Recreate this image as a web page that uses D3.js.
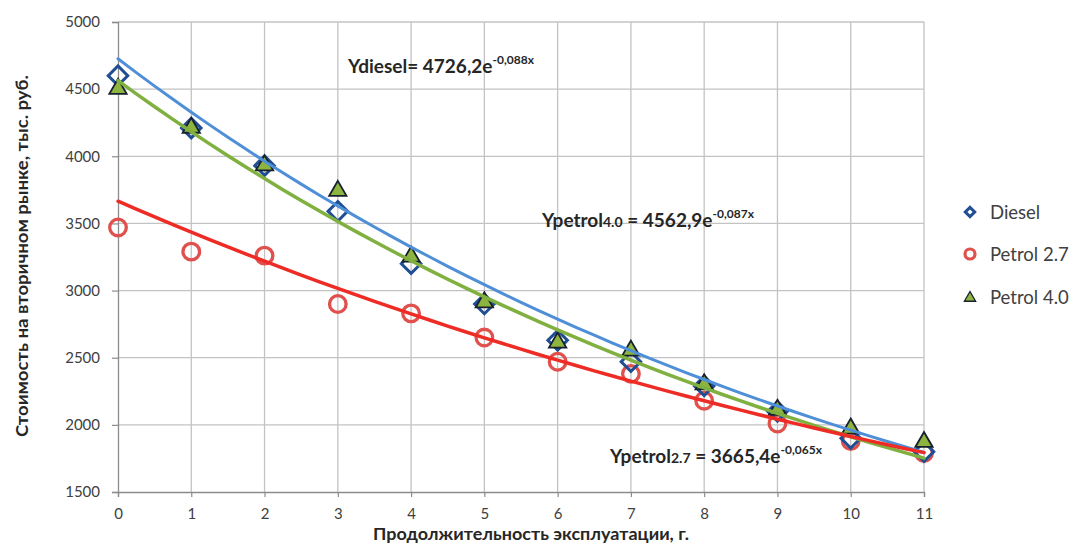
<!DOCTYPE html>
<html>
<head>
<meta charset="utf-8">
<script src="https://cdn.jsdelivr.net/npm/d3@7"></script>
<style>
  html, body { margin: 0; padding: 0; background: #ffffff; }
  svg { display: block; font-family: Lato, "Open Sans", sans-serif; }
</style>
</head>
<body>
<svg id="chart" width="1076" height="550"></svg>
<script>
// Service years (x) and residual market value, thousand rubles
const years = [0, 1, 2, 3, 4, 5, 6, 7, 8, 9, 10, 11];
const diesel   = [4600, 4210, 3930, 3590, 3200, 2900, 2630, 2470, 2290, 2100, 1900, 1800];
const petrol27 = [3470, 3290, 3260, 2900, 2830, 2650, 2470, 2380, 2180, 2010, 1880, 1790];
const petrol40 = [4510, 4220, 3940, 3750, 3260, 2920, 2620, 2560, 2310, 2120, 1980, 1880];

const seriesNames = ["Diesel", "Petrol 2.7", "Petrol 4.0"];
const yTicks = [1500, 2000, 2500, 3000, 3500, 4000, 4500, 5000];

// Exponential trends y = a * e^(b x)
const trendKeys = ["diesel", "petrol2.7", "petrol4.0"];
const trendA = [4726.2, 3665.4, 4562.9];
const trendB = [-0.088, -0.065, -0.087];

const svg = d3.select("#chart");
const m = { left: 118, right: 924, top: 22, bottom: 492 };

const x = d3.scaleLinear().domain([0, 11]).range([m.left, m.right]);
const y = d3.scaleLinear().domain([1500, 5000]).range([m.bottom, m.top]);

const gridColor = "#c3c3c3";
const textColor = "#404040";

// Grid
const grid = svg.append("g");
grid.selectAll("line.v").data(years.slice(1)).join("line")
  .attr("x1", d => x(d)).attr("x2", d => x(d))
  .attr("y1", m.top).attr("y2", m.bottom)
  .attr("stroke", gridColor).attr("stroke-width", 1.3);
grid.selectAll("line.h").data(yTicks.slice(1)).join("line")
  .attr("x1", m.left).attr("x2", m.right)
  .attr("y1", d => y(d)).attr("y2", d => y(d))
  .attr("stroke", gridColor).attr("stroke-width", 1.3);

// Axes
const yAxis = svg.append("g").attr("transform", `translate(${m.left},0)`)
  .call(d3.axisLeft(y).tickValues(yTicks).tickSize(6).tickPadding(12).tickFormat(d3.format("d")));
const xAxis = svg.append("g").attr("transform", `translate(0,${m.bottom})`)
  .call(d3.axisBottom(x).tickValues(years).tickSize(5).tickPadding(11).tickFormat(d3.format("d")));
[yAxis, xAxis].forEach(g => {
  g.select(".domain").attr("stroke", "#8c8c8c").attr("stroke-width", 1.3);
  g.selectAll(".tick line").attr("stroke", "#8c8c8c").attr("stroke-width", 1.2);
  g.selectAll(".tick text").attr("fill", textColor)
    .style("font-family", "Lato, sans-serif").style("font-size", "15px");
});

// Axis titles
svg.append("text")
  .attr("x", 531).attr("y", 540)
  .attr("text-anchor", "middle")
  .attr("font-weight", "bold").attr("font-size", 17.5).attr("fill", "#262626")
  .attr("textLength", 316).attr("lengthAdjust", "spacingAndGlyphs")
  .text("Продолжительность эксплуатации, г.");
svg.append("text")
  .attr("transform", "translate(28,256) rotate(-90)")
  .attr("text-anchor", "middle")
  .attr("font-weight", "bold").attr("font-size", 17.5).attr("fill", "#262626")
  .attr("textLength", 362).attr("lengthAdjust", "spacingAndGlyphs")
  .text("Стоимость на вторичном рынке, тыс. руб.");

// Markers
const pts = (vals) => years.map((d, i) => ({ x: d, y: vals[i] }));

svg.append("g").selectAll("circle").data(pts(petrol27)).join("circle")
  .attr("cx", d => x(d.x)).attr("cy", d => y(d.y)).attr("r", 8.3)
  .attr("fill", "none").attr("stroke", "#e0504d").attr("stroke-width", 3.3);

const diamond = d3.symbol().type(d3.symbolSquare).size(190);
svg.append("g").selectAll("path").data(pts(diesel)).join("path")
  .attr("d", diamond)
  .attr("transform", d => `translate(${x(d.x)},${y(d.y)}) rotate(45)`)
  .attr("fill", "none").attr("stroke", "#1f4e94").attr("stroke-width", 3);

const tri = d3.symbol().type(d3.symbolTriangle).size(130);
svg.append("g").selectAll("path").data(pts(petrol40)).join("path")
  .attr("d", tri)
  .attr("transform", d => `translate(${x(d.x)},${y(d.y) + 1})`)
  .attr("fill", "#8db43e").attr("stroke", "#17202e").attr("stroke-width", 1.8);

// Trend curves
const trendColors = ["#4f8fd8", "#ee2b24", "#80b040"];
const trendWidths = [3, 3.5, 3.5];
const xs = d3.range(0, 11.001, 0.25);
const line = d3.line().x(d => x(d[0])).y(d => y(d[1])).curve(d3.curveMonotoneX);
[0, 2, 1].forEach(k => {
  svg.append("path")
    .datum(xs.map(t => [t, trendA[k] * Math.exp(trendB[k] * t)]))
    .attr("d", line)
    .attr("fill", "none").attr("stroke", trendColors[k]).attr("stroke-width", trendWidths[k])
    .attr("stroke-linecap", "round");
});

// Equation labels
const fmt = (v, n) => v.toFixed(n).replace(".", ",");
const eqPos = [[348, 73], [610, 463], [542, 227]];
trendKeys.forEach((key, k) => {
  const t = svg.append("text")
    .attr("x", eqPos[k][0]).attr("y", eqPos[k][1])
    .attr("font-weight", "bold").attr("fill", "#262626").attr("font-size", 19);
  if (k === 0) {
    t.append("tspan").text("Ydiesel= " + fmt(trendA[k], 1) + "e");
  } else {
    t.append("tspan").text("Y" + key.replace(/[\d.]+$/, ""));
    t.append("tspan").attr("font-size", 14).text(key.match(/[\d.]+$/)[0]);
    t.append("tspan").text(" = " + fmt(trendA[k], 1) + "e");
  }
  t.append("tspan").attr("font-size", 12).attr("dy", -9)
    .text(fmt(trendB[k], 3) + "x");
});

// Legend
const legY = [212, 254, 297];
const legX = 970;
const leg = svg.append("g");
leg.append("path").attr("d", d3.symbol().type(d3.symbolSquare).size(45))
  .attr("transform", `translate(${legX},${legY[0]}) rotate(45)`)
  .attr("fill", "none").attr("stroke", "#1f4e94").attr("stroke-width", 3);
leg.append("circle").attr("cx", legX).attr("cy", legY[1]).attr("r", 5)
  .attr("fill", "none").attr("stroke", "#e0504d").attr("stroke-width", 3.2);
leg.append("path").attr("d", d3.symbol().type(d3.symbolTriangle).size(55))
  .attr("transform", `translate(${legX},${legY[2] + 1})`)
  .attr("fill", "#8db43e").attr("stroke", "#17202e").attr("stroke-width", 1.3);
leg.selectAll("text").data(seriesNames).join("text")
  .attr("x", 990).attr("y", (d, i) => legY[i] + 6.5)
  .attr("fill", textColor).attr("font-size", 18.5)
  .text(d => d);
</script>
</body>
</html>
